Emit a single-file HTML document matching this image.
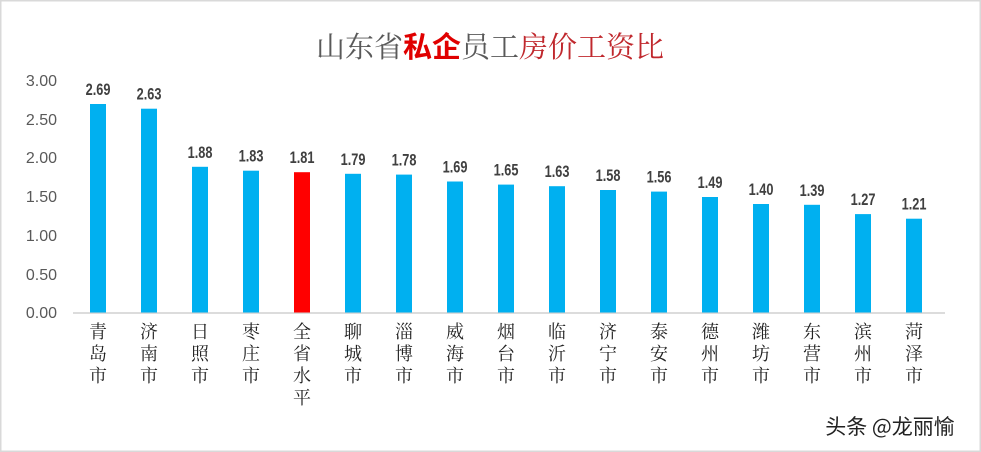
<!DOCTYPE html>
<html><head><meta charset="utf-8"><style>
body{margin:0;background:#fff;}
svg{display:block}
.b{fill:#00b0f0}
.v{font-family:"Liberation Sans",sans-serif;font-weight:bold;font-size:17px;fill:#404040;text-anchor:middle}
.c{font-family:"Noto Serif CJK SC",serif;font-size:18px;fill:#222;text-anchor:middle}
</style></head><body>
<svg width="981" height="452" xmlns="http://www.w3.org/2000/svg">
<rect x="0.5" y="0.5" width="980" height="451" fill="#fff" stroke="#d9d9d9" stroke-width="2"/>
<text x="490" y="57" text-anchor="middle" font-family="'Noto Serif CJK SC',serif" font-size="29" fill="#595959">山东省<tspan font-family="'Noto Sans CJK SC',sans-serif" font-weight="bold" fill="#e00000">私企</tspan>员工<tspan fill="#c0282d">房价工资比</tspan></text>
<g font-family="'Liberation Sans',sans-serif" font-size="16" fill="#595959" text-anchor="end">
<text x="57" y="86">3.00</text><text x="57" y="125">2.50</text><text x="57" y="163">2.00</text><text x="57" y="202">1.50</text><text x="57" y="241">1.00</text><text x="57" y="280">0.50</text><text x="57" y="318">0.00</text>
</g>
<line x1="73" y1="313" x2="945" y2="313" stroke="#d0d0d0" stroke-width="1.5"/>

<g transform="translate(98,0)"><rect class="b" x="-8" y="104" width="16" height="208.5"/><text class="v" transform="translate(0,95) scale(0.75,1)">2.69</text><text class="c" y="338">青</text><text class="c" y="360">岛</text><text class="c" y="382">市</text></g>
<g transform="translate(149,0)"><rect class="b" x="-8" y="108.7" width="16" height="203.8"/><text class="v" transform="translate(0,99.7) scale(0.75,1)">2.63</text><text class="c" y="338">济</text><text class="c" y="360">南</text><text class="c" y="382">市</text></g>
<g transform="translate(200,0)"><rect class="b" x="-8" y="166.8" width="16" height="145.7"/><text class="v" transform="translate(0,157.8) scale(0.75,1)">1.88</text><text class="c" y="338">日</text><text class="c" y="360">照</text><text class="c" y="382">市</text></g>
<g transform="translate(251,0)"><rect class="b" x="-8" y="170.7" width="16" height="141.8"/><text class="v" transform="translate(0,161.7) scale(0.75,1)">1.83</text><text class="c" y="338">枣</text><text class="c" y="360">庄</text><text class="c" y="382">市</text></g>
<g transform="translate(302,0)"><rect x="-8" y="172.2" width="16" height="140.3" fill="#ff0000"/><text class="v" transform="translate(0,163.2) scale(0.75,1)">1.81</text><text class="c" y="338">全</text><text class="c" y="360">省</text><text class="c" y="382">水</text><text class="c" y="404">平</text></g>
<g transform="translate(353,0)"><rect class="b" x="-8" y="173.8" width="16" height="138.7"/><text class="v" transform="translate(0,164.8) scale(0.75,1)">1.79</text><text class="c" y="338">聊</text><text class="c" y="360">城</text><text class="c" y="382">市</text></g>
<g transform="translate(404,0)"><rect class="b" x="-8" y="174.6" width="16" height="137.9"/><text class="v" transform="translate(0,165.6) scale(0.75,1)">1.78</text><text class="c" y="338">淄</text><text class="c" y="360">博</text><text class="c" y="382">市</text></g>
<g transform="translate(455,0)"><rect class="b" x="-8" y="181.5" width="16" height="131"/><text class="v" transform="translate(0,172.5) scale(0.75,1)">1.69</text><text class="c" y="338">威</text><text class="c" y="360">海</text><text class="c" y="382">市</text></g>
<g transform="translate(506,0)"><rect class="b" x="-8" y="184.6" width="16" height="127.9"/><text class="v" transform="translate(0,175.6) scale(0.75,1)">1.65</text><text class="c" y="338">烟</text><text class="c" y="360">台</text><text class="c" y="382">市</text></g>
<g transform="translate(557,0)"><rect class="b" x="-8" y="186.2" width="16" height="126.3"/><text class="v" transform="translate(0,177.2) scale(0.75,1)">1.63</text><text class="c" y="338">临</text><text class="c" y="360">沂</text><text class="c" y="382">市</text></g>
<g transform="translate(608,0)"><rect class="b" x="-8" y="190" width="16" height="122.5"/><text class="v" transform="translate(0,181) scale(0.75,1)">1.58</text><text class="c" y="338">济</text><text class="c" y="360">宁</text><text class="c" y="382">市</text></g>
<g transform="translate(659,0)"><rect class="b" x="-8" y="191.6" width="16" height="120.9"/><text class="v" transform="translate(0,182.6) scale(0.75,1)">1.56</text><text class="c" y="338">泰</text><text class="c" y="360">安</text><text class="c" y="382">市</text></g>
<g transform="translate(710,0)"><rect class="b" x="-8" y="197" width="16" height="115.5"/><text class="v" transform="translate(0,188) scale(0.75,1)">1.49</text><text class="c" y="338">德</text><text class="c" y="360">州</text><text class="c" y="382">市</text></g>
<g transform="translate(761,0)"><rect class="b" x="-8" y="204" width="16" height="108.5"/><text class="v" transform="translate(0,195) scale(0.75,1)">1.40</text><text class="c" y="338">潍</text><text class="c" y="360">坊</text><text class="c" y="382">市</text></g>
<g transform="translate(812,0)"><rect class="b" x="-8" y="204.8" width="16" height="107.7"/><text class="v" transform="translate(0,195.8) scale(0.75,1)">1.39</text><text class="c" y="338">东</text><text class="c" y="360">营</text><text class="c" y="382">市</text></g>
<g transform="translate(863,0)"><rect class="b" x="-8" y="214.1" width="16" height="98.4"/><text class="v" transform="translate(0,205.1) scale(0.75,1)">1.27</text><text class="c" y="338">滨</text><text class="c" y="360">州</text><text class="c" y="382">市</text></g>
<g transform="translate(914,0)"><rect class="b" x="-8" y="218.7" width="16" height="93.8"/><text class="v" transform="translate(0,209.7) scale(0.75,1)">1.21</text><text class="c" y="338">菏</text><text class="c" y="360">泽</text><text class="c" y="382">市</text></g>

<text x="890" y="434" text-anchor="middle" font-family="'Noto Sans CJK SC',sans-serif" font-size="21" fill="#222">头条 @龙丽愉</text>
</svg>
</body></html>
